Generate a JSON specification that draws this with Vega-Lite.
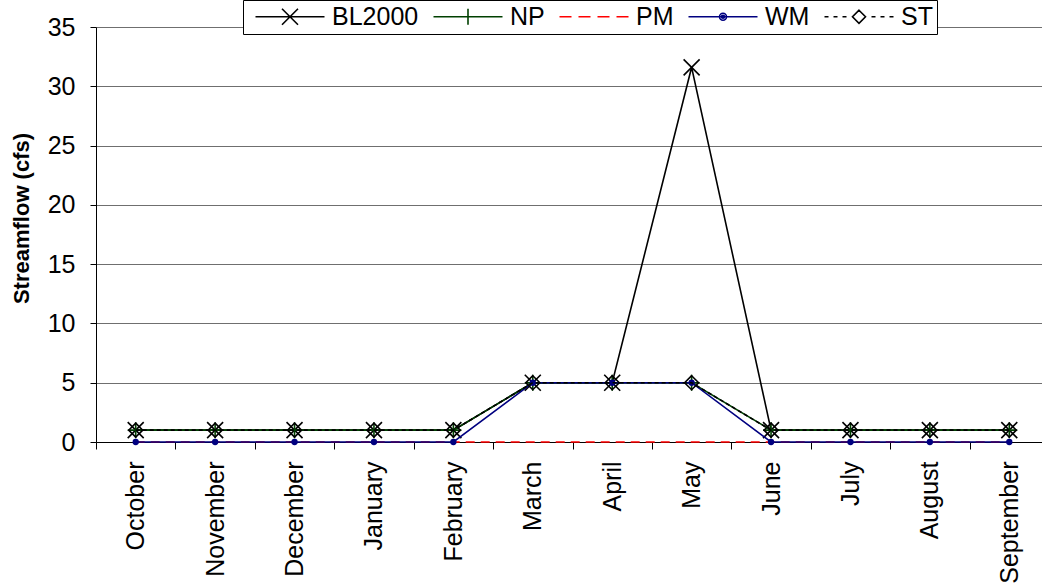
{
  "$schema": "https://vega.github.io/schema/vega-lite/v6.json",
  "autosize": "none",
  "width": 946,
  "height": 415,
  "padding": {"left": 96, "top": 27, "right": 0, "bottom": 144},
  "background": "white",
  "config": {
    "font": "Liberation Sans",
    "view": {"stroke": null},
    "axis": {"labelColor": "black", "domainColor": "black", "tickColor": "black", "labelFont": "Liberation Sans", "titleFont": "Liberation Sans"}
  },
  "data": {"values": [
    {"month": "October", "series": "BL2000", "value": 1},
    {"month": "November", "series": "BL2000", "value": 1},
    {"month": "December", "series": "BL2000", "value": 1},
    {"month": "January", "series": "BL2000", "value": 1},
    {"month": "February", "series": "BL2000", "value": 1},
    {"month": "March", "series": "BL2000", "value": 5},
    {"month": "April", "series": "BL2000", "value": 5},
    {"month": "May", "series": "BL2000", "value": 31.6},
    {"month": "June", "series": "BL2000", "value": 1},
    {"month": "July", "series": "BL2000", "value": 1},
    {"month": "August", "series": "BL2000", "value": 1},
    {"month": "September", "series": "BL2000", "value": 1},
    {"month": "October", "series": "NP", "value": 1},
    {"month": "November", "series": "NP", "value": 1},
    {"month": "December", "series": "NP", "value": 1},
    {"month": "January", "series": "NP", "value": 1},
    {"month": "February", "series": "NP", "value": 1},
    {"month": "March", "series": "NP", "value": 5},
    {"month": "April", "series": "NP", "value": 5},
    {"month": "May", "series": "NP", "value": 5},
    {"month": "June", "series": "NP", "value": 1},
    {"month": "July", "series": "NP", "value": 1},
    {"month": "August", "series": "NP", "value": 1},
    {"month": "September", "series": "NP", "value": 1},
    {"month": "October", "series": "PM", "value": 0},
    {"month": "November", "series": "PM", "value": 0},
    {"month": "December", "series": "PM", "value": 0},
    {"month": "January", "series": "PM", "value": 0},
    {"month": "February", "series": "PM", "value": 0},
    {"month": "March", "series": "PM", "value": 0},
    {"month": "April", "series": "PM", "value": 0},
    {"month": "May", "series": "PM", "value": 0},
    {"month": "June", "series": "PM", "value": 0},
    {"month": "July", "series": "PM", "value": 0},
    {"month": "August", "series": "PM", "value": 0},
    {"month": "September", "series": "PM", "value": 0},
    {"month": "October", "series": "WM", "value": 0},
    {"month": "November", "series": "WM", "value": 0},
    {"month": "December", "series": "WM", "value": 0},
    {"month": "January", "series": "WM", "value": 0},
    {"month": "February", "series": "WM", "value": 0},
    {"month": "March", "series": "WM", "value": 5},
    {"month": "April", "series": "WM", "value": 5},
    {"month": "May", "series": "WM", "value": 5},
    {"month": "June", "series": "WM", "value": 0},
    {"month": "July", "series": "WM", "value": 0},
    {"month": "August", "series": "WM", "value": 0},
    {"month": "September", "series": "WM", "value": 0},
    {"month": "October", "series": "ST", "value": 1},
    {"month": "November", "series": "ST", "value": 1},
    {"month": "December", "series": "ST", "value": 1},
    {"month": "January", "series": "ST", "value": 1},
    {"month": "February", "series": "ST", "value": 1},
    {"month": "March", "series": "ST", "value": 5},
    {"month": "April", "series": "ST", "value": 5},
    {"month": "May", "series": "ST", "value": 5},
    {"month": "June", "series": "ST", "value": 1},
    {"month": "July", "series": "ST", "value": 1},
    {"month": "August", "series": "ST", "value": 1},
    {"month": "September", "series": "ST", "value": 1}
  ]},
  "encoding": {
    "x": {
      "field": "month", "type": "nominal",
      "sort": ["October","November","December","January","February","March","April","May","June","July","August","September"],
      "bandPosition": 0.5,
      "scale": {"type": "band", "paddingInner": 0, "paddingOuter": 0, "range": [0, 953]},
      "axis": {"title": null, "labelAngle": -90, "labelAlign": "right", "labelBaseline": "middle", "labelFontSize": 25, "labelPadding": 12, "tickSize": 7, "tickBand": "extent", "grid": false}
    },
    "y": {
      "field": "value", "type": "quantitative",
      "scale": {"domain": [0, 35], "nice": false},
      "axis": {"values": [0,5,10,15,20,25,30,35], "title": "Streamflow (cfs)", "titleFontSize": 22, "titleFontWeight": "bold", "titleColor": "black", "titlePadding": 14, "titleY": 191, "labelFontSize": 25, "labelPadding": 15, "tickSize": 6, "grid": true, "gridColor": "#6f6f6f", "gridWidth": 1}
    }
  },
  "layer": [
    {"transform": [{"filter": "datum.series === 'BL2000'"}], "mark": {"type": "line", "color": "#000000", "strokeWidth": 1.6}},
    {"transform": [{"filter": "datum.series === 'BL2000'"}], "mark": {"type": "point", "shape": "M-1,-1L1,1M-1,1L1,-1", "size": 256, "filled": false, "color": "#000000", "strokeWidth": 1.6, "opacity": 1}},
    {"transform": [{"filter": "datum.series === 'NP'"}], "mark": {"type": "line", "color": "#004000", "strokeWidth": 1.6}},
    {"transform": [{"filter": "datum.series === 'NP'"}], "mark": {"type": "point", "shape": "M-1,0H1M0,-1V1", "size": 256, "filled": false, "color": "#004000", "strokeWidth": 1.6, "opacity": 1}},
    {"transform": [{"filter": "datum.series === 'PM'"}], "mark": {"type": "line", "color": "#FF0000", "strokeWidth": 1.6, "strokeDash": [9, 6]}},
    {"transform": [{"filter": "datum.series === 'WM'"}], "mark": {"type": "line", "color": "#000080", "strokeWidth": 1.6}},
    {"transform": [{"filter": "datum.series === 'WM'"}], "mark": {"type": "point", "shape": "circle", "size": 40, "filled": true, "color": "#000080", "opacity": 1}},
    {"transform": [{"filter": "datum.series === 'ST'"}], "mark": {"type": "line", "color": "#000000", "strokeWidth": 1.6, "strokeDash": [4, 3]}},
    {"transform": [{"filter": "datum.series === 'ST'"}], "mark": {"type": "point", "shape": "M0,-1L1,0L0,1L-1,0Z", "size": 196, "filled": false, "color": "#000000", "strokeWidth": 1.6, "opacity": 1}},
    {
      "mark": {"type": "point", "filled": false, "opacity": 0, "strokeWidth": 1.6},
      "encoding": {
        "color": {
          "field": "series", "type": "nominal",
          "scale": {"domain": ["BL2000","NP","PM","WM","ST"], "range": ["#000000","#004000","#FF0000","#000080","#000000"]},
          "legend": {"title": null, "orient": "none", "legendX": 147, "legendY": -27, "direction": "horizontal", "columns": 5, "padding": 4, "strokeColor": "black", "fillColor": "white", "columnPadding": 6, "labelFontSize": 25, "labelColor": "black", "labelFont": "Liberation Sans", "symbolSize": 400, "symbolOffset": 30.5, "labelOffset": 29.5, "symbolOpacity": 1, "symbolStrokeWidth": 1.6, "symbolFillColor": "transparent"}
        },
        "shape": {
          "field": "series", "type": "nominal",
          "scale": {"domain": ["BL2000","NP","PM","WM","ST"], "range": [
            "M-3.45,0H3.45M-0.8,-0.8L0.8,0.8M-0.8,0.8L0.8,-0.8",
            "M-3.45,0H3.45M0,-0.8V0.8",
            "M-3.45,0H-2.25M-1.55,0H-0.35M0.35,0H1.55M2.25,0H3.45",
            "M-3.45,0H3.45M-0.35,0a0.35,0.35 0 1,0 0.7,0a0.35,0.35 0 1,0 -0.7,0M-0.15,0a0.15,0.15 0 1,0 0.3,0a0.15,0.15 0 1,0 -0.3,0",
            "M-3.45,0H-3.05M-2.55,0H-2.15M-1.65,0H-1.25M0,-0.65L0.65,0L0,0.65L-0.65,0ZM1.25,0H1.65M2.15,0H2.55M3.05,0H3.45"
          ]},
          "legend": {"title": null}
        }
      }
    }
  ]
}
